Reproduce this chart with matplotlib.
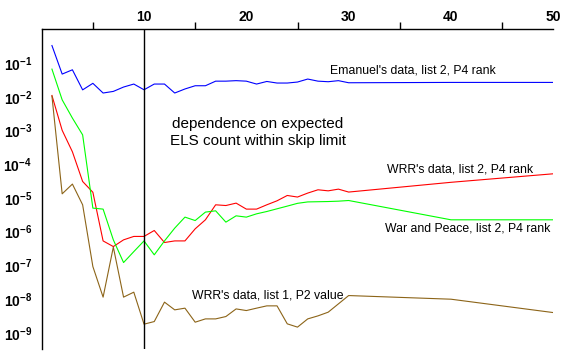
import numpy as np
import matplotlib
matplotlib.use('Agg')
import matplotlib.pyplot as plt
from matplotlib.ticker import FixedLocator, FuncFormatter

plt.rcParams['font.family'] = ['Liberation Sans', 'DejaVu Sans']
plt.rcParams['mathtext.fontset'] = 'custom'
plt.rcParams['mathtext.rm'] = 'Liberation Sans'
plt.rcParams['mathtext.bf'] = 'Liberation Sans:bold'

x_main = list(range(1, 31)) + [40, 50]

emanuel_l2 = [0.33, 0.047, 0.063, 0.016, 0.025, 0.0129, 0.0144, 0.0194, 0.0238, 0.0161,
              0.0238, 0.0238, 0.0129, 0.017, 0.0212, 0.0212, 0.029, 0.029, 0.030, 0.029,
              0.0238, 0.0284, 0.0255, 0.0255, 0.0273, 0.0335, 0.029, 0.0279, 0.030, 0.026,
              0.0266, 0.0266]

wrr_l2 = [0.0109, 1.01e-3, 2.33e-4, 3.07e-5, 1.47e-5, 5.3e-7, 3.6e-7, 5.7e-7, 7.2e-7, 7.2e-7,
          1.08e-6, 4.75e-7, 5.3e-7, 5.3e-7, 1.21e-6, 2.24e-6, 6.24e-6, 5.94e-6, 7.0e-6, 4.65e-6,
          4.65e-6, 6.24e-6, 8.2e-6, 1.18e-5, 1.06e-5, 1.39e-5, 1.74e-5, 1.62e-5, 1.82e-5, 1.49e-5,
          2.9e-5, 5.19e-5]

war_peace_l2 = [0.066, 8.1e-3, 2.33e-3, 7.4e-4, 4.98e-6, 4.65e-6, 5.7e-7, 1.21e-7, 2.55e-7, 5.3e-7,
                2.05e-7, 5.3e-7, 1.27e-6, 2.69e-6, 2.13e-6, 3.79e-6, 4.14e-6, 1.91e-6, 2.94e-6, 2.69e-6,
                3.37e-6, 3.95e-6, 4.75e-6, 5.71e-6, 6.9e-6, 7.6e-6, 7.7e-6, 7.8e-6, 8.0e-6, 8.37e-6,
                2.24e-6, 2.24e-6]

wrr_l1 = [0.0104, 1.32e-5, 2.57e-5, 6.24e-6, 9.2e-8, 1.14e-8, 3.47e-7, 1.14e-8, 1.6e-8, 1.8e-9,
          2.15e-9, 8.1e-9, 4.78e-9, 5.37e-9, 2.06e-9, 2.58e-9, 2.58e-9, 3.03e-9, 5.1e-9, 4.56e-9,
          5.37e-9, 6.28e-9, 6.28e-9, 1.84e-9, 1.47e-9, 2.58e-9, 3.17e-9, 4.08e-9, 7.2e-9, 1.27e-8,
          9.9e-9, 3.97e-9]

x_ticks = [10, 20, 30, 40, 50]
x_minor = [5, 15, 25, 35, 45]
y_decades = list(range(-9, 0))

fig = plt.figure(figsize=(5.69, 3.57), dpi=100)
ax = fig.add_axes([0.0733, 0.0224, 0.8991, 0.8955])

ax.plot(x_main, emanuel_l2, color='#0000ff', lw=0.8)
ax.plot(x_main, wrr_l2, color='#ff0000', lw=0.8)
ax.plot(x_main, war_peace_l2, color='#00ff00', lw=0.8)
ax.plot(x_main, wrr_l1, color='#8c6418', lw=0.8)
ax.axvline(10, color='black', lw=1.0)

ax.set_yscale('log')
ax.set_xlim(0, 50)
ax.set_ylim(3.3e-10, 1)

for s in ['right', 'bottom']:
    ax.spines[s].set_visible(False)
for s in ['left', 'top']:
    ax.spines[s].set_linewidth(1.0)

ax.xaxis.tick_top()
ax.xaxis.set_major_locator(FixedLocator(x_ticks))
ax.xaxis.set_minor_locator(FixedLocator(x_minor))
ax.tick_params(axis='x', which='major', length=0, pad=4, labelsize=10)
ax.tick_params(axis='x', which='minor', length=5, width=1, direction='out')
for lab in ax.get_xticklabels():
    lab.set_fontweight('bold')

ax.yaxis.set_major_locator(FixedLocator([10.0 ** d for d in y_decades]))
ax.yaxis.set_minor_locator(FixedLocator([]))
ax.yaxis.set_major_formatter(FuncFormatter(
    lambda v, p: r'$\mathbf{10^{%d}}$' % int(round(np.log10(v)))))
ax.tick_params(axis='y', which='major', length=0, pad=7, labelsize=10)

fs = 8.8
ax.text(28.2, 10 ** -1.228, "Emanuel's data, list 2, P4 rank", fontsize=fs, ha='left', va='center')
ax.text(21.1, 10 ** -3.06, "dependence on expected\nELS count within skip limit",
        fontsize=11, ha='center', va='center', linespacing=1.2)
ax.text(33.75, 10 ** -4.166, "WRR's data, list 2, P4 rank", fontsize=fs, ha='left', va='center')
ax.text(33.6, 10 ** -5.917, "War and Peace, list 2, P4 rank", fontsize=fs, ha='left', va='center')
ax.text(14.72, 10 ** -7.896, "WRR's data, list 1, P2 value", fontsize=fs, ha='left', va='center')

fig.savefig('out.png', dpi=100)
